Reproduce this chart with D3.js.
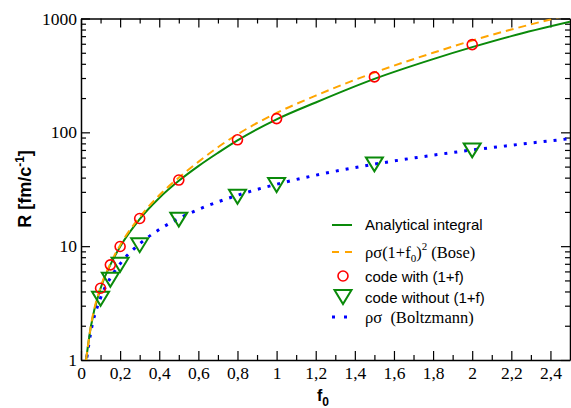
<!DOCTYPE html>
<html>
<head>
<meta charset="utf-8">
<script src="https://cdn.jsdelivr.net/npm/d3@7"></script>
<style>
  body { margin: 0; background: #fff; }
</style>
</head>
<body>
<svg id="chart" width="571" height="408"></svg>
<script>
// values
const analyticF = [0.026, 0.05, 0.1, 0.15, 0.2, 0.3, 0.4, 0.5, 0.6, 0.7, 0.8, 1.0, 1.2, 1.5, 1.8, 2.0, 2.2, 2.5];
const analyticR = [1.0, 1.95, 4.25, 6.85, 9.9, 17.3, 26.5, 37.5, 50.5, 66, 85, 130, 183, 295, 440, 560, 700, 935];

const boseF = [0.026, 0.05, 0.1, 0.15, 0.2, 0.3, 0.4, 0.5, 0.6, 0.7, 0.8, 1.0, 1.2, 1.5, 1.8, 2.0, 2.2, 2.42, 2.5];
const boseR = [1.0, 1.97, 4.35, 7.0, 10.2, 18, 28, 40, 55, 74, 96, 148, 210, 335, 500, 640, 800, 1000, 1080];

const boltzF = [0.03, 0.05, 0.1, 0.15, 0.2, 0.3, 0.4, 0.5, 0.6, 0.8, 1.0, 1.2, 1.5, 1.8, 2.0, 2.2, 2.5];
const boltzR = [1.05, 1.75, 3.5, 5.25, 7.0, 10.5, 14, 17.5, 21, 28, 35, 42, 52.5, 63, 70, 77, 88];

const codeF = [0.1, 0.15, 0.2, 0.3, 0.5, 0.8, 1.0, 1.5, 2.0];
const codeWithR = [4.27, 6.85, 9.93, 17.5, 38.1, 86, 132, 307, 590];
const codeWithoutR = [3.45, 5.06, 6.85, 10.2, 17.1, 27.2, 34.4, 52.3, 69.4];

const xMajor = [0, 0.2, 0.4, 0.6, 0.8, 1.0, 1.2, 1.4, 1.6, 1.8, 2.0, 2.2, 2.4];
const xMajorLabels = ["0", "0,2", "0,4", "0,6", "0,8", "1", "1,2", "1,4", "1,6", "1,8", "2", "2,2", "2,4"];
const xMinor = [0.1, 0.3, 0.5, 0.7, 0.9, 1.1, 1.3, 1.5, 1.7, 1.9, 2.1, 2.3];
const yMajor = [1, 10, 100, 1000];
const yMajorLabels = ["1", "10", "100", "1000"];

const green = "#0a8a0a", orange = "#ffa500", red = "#ff0000", blue = "#0000ff";
const serif = "'Liberation Serif', 'Times New Roman', serif";
const sans = "'Liberation Sans', Arial, sans-serif";

const margin = { top: 18.5, right: 1, bottom: 48, left: 81 };
const W = 571, H = 408;
const width = W - margin.left - margin.right;
const height = H - margin.top - margin.bottom;

const svg = d3.select("#chart");
const g = svg.append("g").attr("transform", "translate(" + margin.left + "," + margin.top + ")");

const x = d3.scaleLinear().domain([0, 2.5]).range([0, width]);
const y = d3.scaleLog().domain([1, 1000]).range([height, 0]);

const yMinor = [];
yMajor.slice(0, 3).forEach(d => { for (let k = 2; k <= 9; k++) yMinor.push(d * k); });

g.append("clipPath").attr("id", "clip")
  .append("rect").attr("width", width).attr("height", height);

// axes with inward ticks, on all four sides
function axisPair(axisFn, scale, major, minor, labels, transform, showLabels) {
  const a = g.append("g").attr("transform", transform)
    .call(axisFn(scale).tickValues(major).tickSizeInner(-9).tickSizeOuter(0)
      .tickFormat((d, i) => showLabels ? labels[i] : ""));
  a.attr("font-family", serif).attr("font-size", 17.5);
  g.append("g").attr("transform", transform)
    .call(axisFn(scale).tickValues(minor).tickSizeInner(-5).tickSizeOuter(0).tickFormat(""))
    .select(".domain").remove();
  return a;
}
const bx = axisPair(d3.axisBottom, x, xMajor, xMinor, xMajorLabels, "translate(0," + height + ")", true);
bx.selectAll(".tick text").attr("dy", null).attr("y", 19);
axisPair(d3.axisTop, x, xMajor, xMinor, xMajorLabels, "translate(0,0)", false);
const ly = axisPair(d3.axisLeft, y, yMajor, yMinor, yMajorLabels, "translate(0,0)", true);
ly.selectAll(".tick text").attr("x", -4);
axisPair(d3.axisRight, y, yMajor, yMinor, yMajorLabels, "translate(" + width + ",0)", false);
g.selectAll(".domain").attr("stroke-width", 1.5);
g.selectAll(".tick line").attr("stroke-width", 1.2);
g.selectAll(".tick text").attr("fill", "#000");

// curves
const plot = g.append("g").attr("clip-path", "url(#clip)");
const line = d3.line().x(d => x(d[0])).y(d => y(d[1])).curve(d3.curveMonotoneX);

plot.append("path").datum(d3.zip(boltzF, boltzR))
  .attr("d", line).attr("fill", "none").attr("stroke", blue)
  .attr("stroke-width", 3).attr("stroke-dasharray", "3,7");
plot.append("path").datum(d3.zip(analyticF, analyticR))
  .attr("d", line).attr("fill", "none").attr("stroke", green).attr("stroke-width", 2);
plot.append("path").datum(d3.zip(boseF, boseR))
  .attr("d", line).attr("fill", "none").attr("stroke", orange)
  .attr("stroke-width", 2).attr("stroke-dasharray", "8,5");

// symbols
const tri = "M-8.5,-7L8.5,-7L0,7Z";
g.selectAll(".tri").data(d3.zip(codeF, codeWithoutR)).enter().append("path")
  .attr("class", "tri")
  .attr("transform", d => "translate(" + x(d[0]) + "," + y(d[1]) + ")")
  .attr("d", tri).attr("fill", "none").attr("stroke", green).attr("stroke-width", 2);
g.selectAll(".circ").data(d3.zip(codeF, codeWithR)).enter().append("circle")
  .attr("class", "circ")
  .attr("cx", d => x(d[0])).attr("cy", d => y(d[1])).attr("r", 5)
  .attr("fill", "none").attr("stroke", red).attr("stroke-width", 1.6);

// axis titles
const xt = svg.append("text").attr("font-family", sans).attr("font-weight", "bold")
  .attr("font-size", 16).attr("x", 317).attr("y", 401);
xt.append("tspan").text("f");
xt.append("tspan").attr("font-size", 12).attr("dy", 5).text("0");

const yt = svg.append("text").attr("font-family", sans).attr("font-weight", "bold")
  .attr("font-size", 18).attr("transform", "translate(31,189) rotate(-90)").attr("text-anchor", "middle");
yt.append("tspan").text("R [fm/c");
yt.append("tspan").attr("font-size", 12).attr("dy", -7).text("-1");
yt.append("tspan").attr("dy", 7).text("]");

// legend
const leg = svg.append("g");
leg.append("line").attr("x1", 332).attr("x2", 352).attr("y1", 225).attr("y2", 225)
  .attr("stroke", green).attr("stroke-width", 2);
leg.append("text").attr("font-family", sans).attr("font-size", 15)
  .attr("x", 365).attr("y", 230).text("Analytical integral");

leg.append("line").attr("x1", 332).attr("x2", 352).attr("y1", 252).attr("y2", 252)
  .attr("stroke", orange).attr("stroke-width", 2).attr("stroke-dasharray", "7,6");
const lb = leg.append("text").attr("font-family", serif).attr("font-size", 16.5).attr("x", 365).attr("y", 258);
lb.append("tspan").text("ρσ(1+f");
lb.append("tspan").attr("font-size", 11).attr("dy", 4).text("0");
lb.append("tspan").attr("dy", -4).text(")");
lb.append("tspan").attr("font-size", 11).attr("dy", -8).text("2");
lb.append("tspan").attr("dy", 8).text(" (Bose)");

leg.append("circle").attr("cx", 343).attr("cy", 276).attr("r", 5)
  .attr("fill", "none").attr("stroke", red).attr("stroke-width", 1.6);
leg.append("text").attr("font-family", sans).attr("font-size", 15)
  .attr("x", 365).attr("y", 282).text("code with (1+f)");

leg.append("path").attr("transform", "translate(343,297)").attr("d", tri)
  .attr("fill", "none").attr("stroke", green).attr("stroke-width", 2);
leg.append("text").attr("font-family", sans).attr("font-size", 15)
  .attr("x", 365).attr("y", 303).text("code without (1+f)");

leg.append("line").attr("x1", 332).attr("x2", 352).attr("y1", 317).attr("y2", 317)
  .attr("stroke", blue).attr("stroke-width", 3).attr("stroke-dasharray", "3,9");
leg.append("text").attr("font-family", serif).attr("font-size", 16.5)
  .attr("x", 365).attr("y", 323).attr("xml:space", "preserve").text("ρσ  (Boltzmann)");
</script>
</body>
</html>
